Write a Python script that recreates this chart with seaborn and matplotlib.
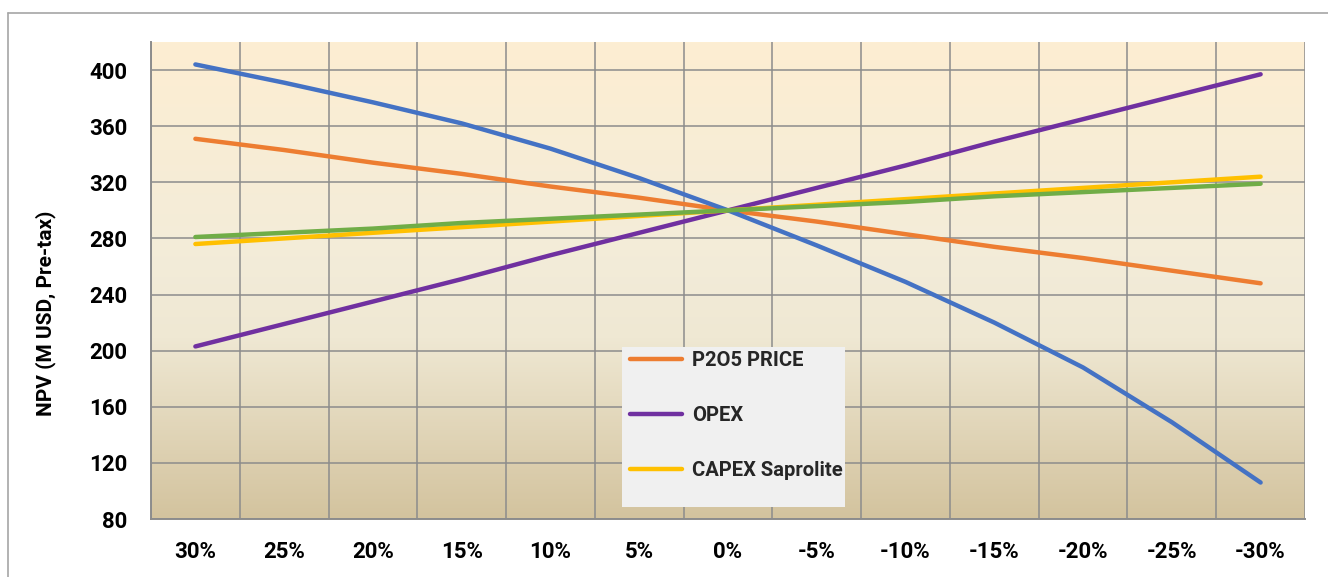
import numpy as np
import pandas as pd
import matplotlib
matplotlib.use("Agg")
import matplotlib.pyplot as plt
from matplotlib.colors import LinearSegmentedColormap
from matplotlib.patches import Rectangle
from matplotlib.lines import Line2D
import seaborn as sns

# Sensitivity steps (change applied to each driver)
steps = ["30%", "25%", "20%", "15%", "10%", "5%", "0%",
         "-5%", "-10%", "-15%", "-20%", "-25%", "-30%"]

# NPV (M USD, pre-tax) for each driver
npv_blue = [404, 391, 377, 362, 344, 323, 300, 275, 249, 220, 188, 149, 106]
npv_p2o5 = [351, 343, 334, 326, 317, 309, 300, 292, 283, 274, 266, 257, 248]
npv_opex = [203, 219, 235, 251, 268, 284, 300, 316, 332, 349, 365, 381, 397]
npv_capex_sap = [276, 280, 284, 288, 292, 296, 300, 304, 308, 312, 316, 320, 324]
npv_green = [281, 284, 287, 291, 294, 297, 300, 303, 306, 310, 313, 316, 319]

series_names = ["P2O5 PRICE", "OPEX", "CAPEX Saprolite", "s_blue", "s_green"]
series_values = [npv_p2o5, npv_opex, npv_capex_sap, npv_blue, npv_green]
series_colors = ["#ED7D31", "#7030A0", "#FFC000", "#4472C4", "#70AD47"]
legend_names = ["P2O5 PRICE", "OPEX", "CAPEX Saprolite"]

y_ticks = [80, 120, 160, 200, 240, 280, 320, 360, 400]

df = pd.DataFrame({
    "step": steps * len(series_names),
    "npv": np.concatenate(series_values),
    "series": np.repeat(series_names, len(steps)),
})

sns.set_theme(style="white")
plt.rcParams["font.family"] = ["Roboto", "DejaVu Sans"]
plt.rcParams["font.weight"] = "bold"

TICK_FS = 16
LABEL_FS = 15
LEG_FS = 14.5

fig = plt.figure(figsize=(13.28, 5.77), dpi=100)
fig.patch.set_facecolor("white")
ax = fig.add_axes([151 / 1328, 1 - 519 / 577, 1154 / 1328, 477 / 577])

n = len(steps)
x_lo, x_hi = -0.5, n - 0.5
y_lo, y_hi = 80, 420

# parchment-style vertical gradient behind the plot (cream at top, tan at bottom)
grad = LinearSegmentedColormap.from_list(
    "parchment", [(0.0, "#FDEED2"), (0.45, "#F3ECD9"), (0.62, "#EFE8D3"), (1.0, "#D3C39E")])
ax.imshow(np.linspace(0, 1, 256).reshape(-1, 1), aspect="auto", cmap=grad,
          extent=[x_lo, x_hi, y_lo, y_hi], zorder=0, origin="upper")

sns.lineplot(data=df, x="step", y="npv", hue="series", hue_order=series_names,
             palette=dict(zip(series_names, series_colors)), sort=False,
             linewidth=3.2, ax=ax, legend=False, zorder=3)
for ln in ax.get_lines():
    ln.set_solid_capstyle("round")

ax.set_xlim(x_lo, x_hi)
ax.set_ylim(y_lo, y_hi)

grid_c = "#8C8C8C"
ax.set_xticks(range(n))
ax.set_xticklabels(steps)
ax.set_xticks(np.arange(-0.5, n, 1.0), minor=True)
ax.set_yticks(y_ticks)
ax.set_yticklabels([str(v) for v in y_ticks])

ax.tick_params(axis="x", which="major", length=0, pad=16, labelsize=TICK_FS, labelcolor="black")
ax.tick_params(axis="x", which="minor", length=6, width=1.1, color=grid_c, direction="out")
ax.tick_params(axis="y", which="major", length=6, width=1.1, color=grid_c, direction="out",
               pad=11, labelsize=TICK_FS, labelcolor="black")
for lab in ax.get_xticklabels() + ax.get_yticklabels():
    lab.set_fontweight("bold")

ax.grid(False)
ax.xaxis.grid(True, which="minor", color=grid_c, linewidth=1.1)
ax.yaxis.grid(True, which="major", color=grid_c, linewidth=1.1)

for side in ["top", "right"]:
    ax.spines[side].set_visible(False)
for side in ["left", "bottom"]:
    ax.spines[side].set_color(grid_c)
    ax.spines[side].set_linewidth(1.4)

ax.set_xlabel("")
ax.set_ylabel("NPV (M USD, Pre-tax)", fontsize=LABEL_FS, fontweight="bold", color="black")
ax.yaxis.label.set_va("center")
ax.yaxis.set_label_coords((46 - 151) / 1154, (519 - 313) / 477)

# legend panel
ax.add_patch(Rectangle(((622 - 151) / 1154, (519 - 507) / 477), 223 / 1154, 160 / 477,
                       transform=ax.transAxes, facecolor="#F0F0F0", edgecolor="none",
                       zorder=4.5))
handles = [Line2D([], [], color=c, linewidth=3.2, solid_capstyle="round")
           for c in series_colors[:3]]
leg = ax.legend(handles, legend_names, loc="upper left",
                bbox_to_anchor=((630 - 151) / 1154, (519 - 351) / 477),
                frameon=False, borderpad=0, borderaxespad=0, fontsize=LEG_FS,
                labelspacing=1.8, handlelength=2.6, handletextpad=0.5)
for t in leg.get_texts():
    t.set_fontweight("bold")
leg.set_zorder(5)

# outer chart border
fig.add_artist(Line2D([8 / 1328, 8 / 1328], [0, 1 - 13 / 577], color="#A6A6A6",
                      linewidth=1.2, transform=fig.transFigure))
fig.add_artist(Line2D([8 / 1328, 1], [1 - 13 / 577, 1 - 13 / 577], color="#A6A6A6",
                      linewidth=1.2, transform=fig.transFigure))

fig.savefig("out.png", dpi=100, facecolor="white")
